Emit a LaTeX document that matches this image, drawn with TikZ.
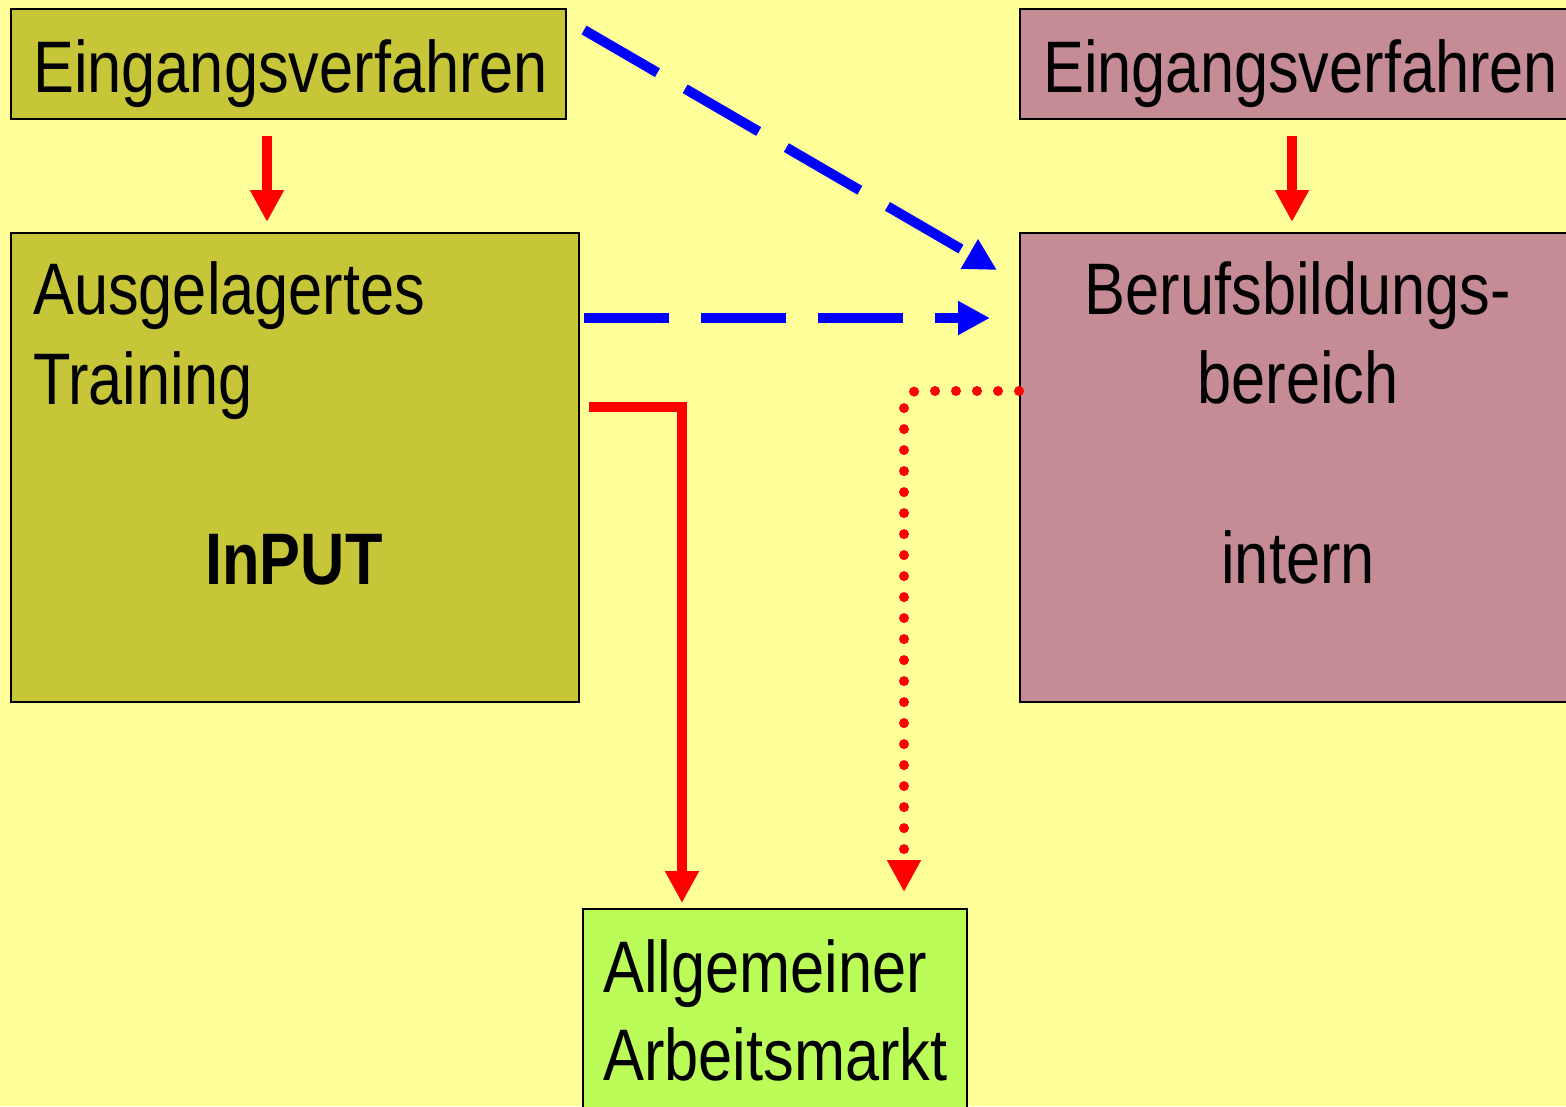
\documentclass[tikz,border=0pt]{standalone}
\usepackage{fontspec}
\setmainfont{Liberation Sans}[FakeStretch=0.84]
\usepackage{xcolor}
\usetikzlibrary{arrows.meta}

\definecolor{bgyellow}{RGB}{255,255,153}
\definecolor{olivebox}{RGB}{198,198,56}
\definecolor{mauvebox}{RGB}{198,140,150}
\definecolor{greenbox}{RGB}{188,252,88}

\begin{document}
\begin{tikzpicture}
  [x=1pt,y=-1pt,
   box/.style={draw=black,line width=2pt,inner sep=0pt,anchor=north west},
   txt/.style={inner sep=0pt,anchor=base west,font=\fontsize{73}{90}\selectfont},
   redarrow/.style={draw=red,line width=10pt,-{Triangle[width=32pt,length=32pt]}},
   bluearrow/.style={draw=blue,line width=10pt,dash pattern=on 85pt off 32pt,-{Triangle[width=32pt,length=32pt]}},
   dotarrow/.style={draw=red,line width=10pt,line cap=round,dash pattern=on 0pt off 21pt,-{Triangle[width=32pt,length=32pt]}}]
  \clip (0,0) rectangle (1566,1106);
  \fill[bgyellow] (0,0) rectangle (1566,1106);

  % boxes
  \node[box,fill=olivebox,minimum width=555,minimum height=110] (e1) at (10,8) {};
  \node[box,fill=mauvebox,minimum width=560,minimum height=110] (e2) at (1019,8) {};
  \node[box,fill=olivebox,minimum width=568,minimum height=469] (a1) at (10,232) {};
  \node[box,fill=mauvebox,minimum width=560,minimum height=469] (b1) at (1019,232) {};
  \node[box,fill=greenbox,minimum width=384,minimum height=220] (m1) at (582,908) {};

  % texts
  \node[txt] (t1) at (33,92) {Eingangsverfahren};
  \node[txt] (t2) at (1043,92) {Eingangsverfahren};
  \node[txt] (t3) at (33,314) {Ausgelagertes};
  \node[txt] (t4) at (33,404) {Training};
  \node[txt,anchor=base,font=\fontsize{73}{90}\selectfont\bfseries] (t5) at (294,584) {InPUT};
  \node[txt,anchor=base] (t6) at (1298,314) {Berufsbildungs-};
  \node[txt,anchor=base] (t7) at (1298,403) {bereich};
  \node[txt,anchor=base] (t8) at (1298,583) {intern};
  \node[txt] (t9) at (603,992) {Allgemeiner};
  \node[txt] (t10) at (603,1080) {Arbeitsmarkt};

  % connectors
  \draw[redarrow,shorten <=16pt,shorten >=10pt] ([xshift=-21.5pt]e1.south) -- ([xshift=-21.5pt]e1.south |- a1.north);
  \draw[redarrow,shorten <=16pt,shorten >=10pt] ([xshift=-8pt]e2.south) -- ([xshift=-8pt]e2.south |- b1.north);
  \draw[bluearrow] ([shift={(17,22)}]e1.north east) -- ([shift={(-22,38)}]b1.north west);
  \draw[bluearrow] ([shift={(4,86)}]a1.north east) -- ([shift={(-29,86)}]b1.north west);
  \draw[redarrow,shorten >=5pt] ([shift={(9,175)}]a1.north east) -| ([xshift=100pt]m1.north west);
  \draw[dotarrow,rounded corners=14pt,shorten >=16pt] ([yshift=-159pt]b1.north west) -| ([xshift=322pt]m1.north west);
\end{tikzpicture}
\end{document}
